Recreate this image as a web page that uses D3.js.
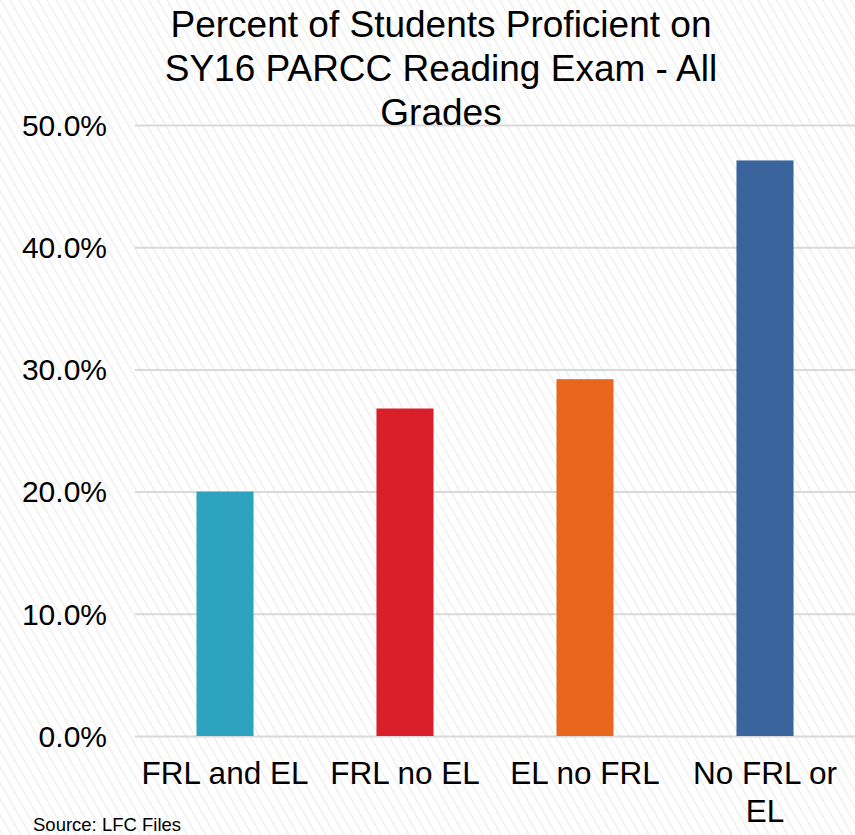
<!DOCTYPE html>
<html>
<head>
<meta charset="utf-8">
<script src="https://cdn.jsdelivr.net/npm/d3@7"></script>
<style>
  html, body { margin: 0; padding: 0; background: #fff; }
  svg { display: block; font-family: "Liberation Sans", Arial, sans-serif; }
</style>
</head>
<body>
<div id="chart"></div>
<script>
// Chart data
const categories = ['FRL and EL', 'FRL no EL', 'EL no FRL', 'No FRL or EL'];
const values = [20.0, 26.8, 29.2, 47.1];
const barColors = ['#2ea3bf', '#db1f2a', '#e8661e', '#3a649c'];
const yTicks = [0, 10, 20, 30, 40, 50];
const titleLines = ['Percent of Students Proficient on', 'SY16 PARCC Reading Exam - All', 'Grades'];
const sourceText = 'Source: LFC Files';

const width = 855;
const height = 835;
const margin = { top: 125, right: 0, bottom: 99, left: 135 };
const innerWidth = width - margin.left - margin.right;
const innerHeight = height - margin.top - margin.bottom;

const svg = d3.select('#chart').append('svg')
    .attr('width', width)
    .attr('height', height);

// Diagonal striped background
const defs = svg.append('defs');
const pat = defs.append('pattern')
    .attr('id', 'stripes')
    .attr('patternUnits', 'userSpaceOnUse')
    .attr('width', 8)
    .attr('height', 8)
    .attr('patternTransform', 'rotate(-30)');
pat.append('rect').attr('width', 8).attr('height', 8).attr('fill', '#ffffff');
pat.append('line')
    .attr('x1', 0).attr('y1', 0).attr('x2', 0).attr('y2', 8)
    .attr('stroke', '#ececec')
    .attr('stroke-width', 2.5);

svg.append('rect')
    .attr('width', width)
    .attr('height', height)
    .attr('fill', 'url(#stripes)');

const g = svg.append('g').attr('transform', `translate(${margin.left},${margin.top})`);

// Scales
const x = d3.scaleBand()
    .domain(categories)
    .range([0, innerWidth])
    .paddingInner(0.683)
    .paddingOuter(0.3415);

const y = d3.scaleLinear()
    .domain([0, 50])
    .range([innerHeight, 0]);

// Y axis with gridlines
g.append('g')
    .call(d3.axisLeft(y).tickValues(yTicks).tickFormat(d => d.toFixed(1) + '%').tickSize(0))
    .call(a => a.select('.domain').remove())
    .call(a => a.selectAll('.tick line')
        .attr('x2', innerWidth)
        .attr('stroke', '#d9d9d9')
        .attr('stroke-width', 2))
    .call(a => a.selectAll('text')
        .attr('x', -28)
        .attr('dy', '0.34em')
        .attr('fill', '#000')
        .attr('font-size', 30)
        .attr('font-family', '"Liberation Sans", Arial, sans-serif'));

// Bars
g.selectAll('rect.bar')
    .data(categories)
    .join('rect')
    .attr('class', 'bar')
    .attr('x', d => x(d))
    .attr('y', (d, i) => y(values[i]))
    .attr('width', x.bandwidth())
    .attr('height', (d, i) => innerHeight - y(values[i]))
    .attr('fill', (d, i) => barColors[i]);

// X axis labels (wrapped where needed)
const xLabelLines = { 'No FRL or EL': ['No FRL or', 'EL'] };
const xAxis = g.append('g')
    .attr('transform', `translate(0,${innerHeight})`)
    .call(d3.axisBottom(x).tickSize(0).tickFormat(''))
    .call(a => a.select('.domain').remove());

xAxis.selectAll('.tick').each(function (d) {
    const lines = xLabelLines[d] || [d];
    const t = d3.select(this).append('text')
        .attr('fill', '#000')
        .attr('font-size', 31.5)
        .attr('text-anchor', 'middle')
        .attr('font-family', '"Liberation Sans", Arial, sans-serif');
    lines.forEach((ln, i) => {
        t.append('tspan').attr('x', 0).attr('y', 48 + i * 38).text(ln);
    });
});

// Title
svg.append('text')
    .attr('x', 441)
    .attr('y', 37)
    .attr('text-anchor', 'middle')
    .attr('font-size', 37)
    .attr('fill', '#000')
    .selectAll('tspan')
    .data(titleLines)
    .join('tspan')
    .attr('x', 441)
    .attr('dy', (d, i) => i === 0 ? 0 : 44)
    .text(d => d);

// Source note
svg.append('text')
    .attr('x', 33)
    .attr('y', 831)
    .attr('font-size', 18.5)
    .attr('fill', '#000')
    .text(sourceText);
</script>
</body>
</html>
